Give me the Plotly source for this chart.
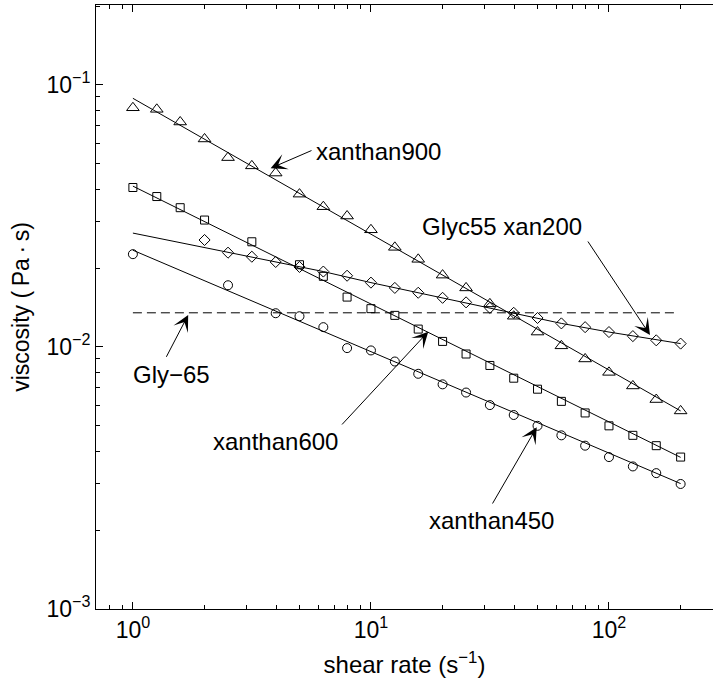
import math
import plotly.graph_objects as go

# shear-rate grid (s^-1)
shear = [1.0, 1.26, 1.58, 2.0, 2.51, 3.16, 3.98, 5.01, 6.31, 7.94,
         10.0, 12.6, 15.8, 20.0, 25.1, 31.6, 39.8, 50.1, 63.1, 79.4,
         100.0, 126.0, 158.0, 200.0]

# xanthan900 (triangles)
x900 = shear
y900 = [0.0818, 0.0807, 0.0722, 0.0622, 0.0528, 0.0491, 0.0461, 0.0383, 0.0343, 0.0316,
        0.0280, 0.0240, 0.0216, 0.0188, 0.0168, 0.0146, 0.0131, 0.0114, 0.0101, 0.0090,
        0.0080, 0.0071, 0.0063, 0.0057]
fit900_x = [1.0, 200.0]
fit900_y = [0.0889, 0.0057]

# xanthan600 (squares)
x600 = [1.0, 1.26, 1.58, 2.0, 3.16, 5.01, 6.31, 7.94,
        10.0, 12.6, 15.8, 20.0, 25.1, 31.6, 39.8, 50.1, 63.1, 79.4,
        100.0, 126.0, 158.0, 200.0]
y600 = [0.0406, 0.0375, 0.0340, 0.0305, 0.0252, 0.0206, 0.0186, 0.0155,
        0.0140, 0.0132, 0.0117, 0.0105, 0.0094, 0.0085, 0.0076, 0.0069, 0.0062, 0.0056,
        0.0050, 0.0046, 0.0042, 0.0038]
fit600_x = [1.0, 200.0]
fit600_y = [0.0411, 0.00379]

# Glyc55 xan200 (diamonds)
x200 = [2.0, 2.51, 3.16, 3.98, 5.01, 6.31, 7.94,
        10.0, 12.6, 15.8, 20.0, 25.1, 31.6, 39.8, 50.1, 63.1, 79.4,
        100.0, 126.0, 158.0, 200.0]
y200 = [0.0256, 0.0229, 0.0221, 0.0211, 0.0202, 0.0194, 0.0187,
        0.0176, 0.0168, 0.0161, 0.0154, 0.0148, 0.0141, 0.0135, 0.0129, 0.0123, 0.0119,
        0.0114, 0.0110, 0.0106, 0.0103]
fit200_x = [1.0, 2.51, 3.98, 6.31, 10.0, 15.8, 25.1, 39.8, 63.1, 100.0, 200.0]
fit200_y = [0.0272, 0.0229, 0.0211, 0.0194, 0.0176, 0.0161, 0.0148, 0.0135, 0.0123, 0.0114, 0.0103]

# xanthan450 (circles)
x450 = [1.0, 2.51, 3.98, 5.01, 6.31, 7.94,
        10.0, 12.6, 15.8, 20.0, 25.1, 31.6, 39.8, 50.1, 63.1, 79.4,
        100.0, 126.0, 158.0, 200.0]
y450 = [0.0226, 0.0172, 0.01345, 0.0131, 0.0119, 0.0099,
        0.0097, 0.0088, 0.0079, 0.0072, 0.0067, 0.0060, 0.0055, 0.0050, 0.0046, 0.0042,
        0.0038, 0.0035, 0.0033, 0.0030]
fit450_x = [1.0, 200.0]
fit450_y = [0.0234, 0.00301]

# Gly-65 (Newtonian reference, dashed)
gly_x = [1.0, 190.0]
gly_y = [0.0135, 0.0135]

x_major = [1, 10, 100]
x_major_text = ["10<sup>0</sup>", "10<sup>1</sup>", "10<sup>2</sup>"]
y_major = [0.001, 0.01, 0.1]
y_major_text = ["10<sup>−3</sup>", "10<sup>−2</sup>", "10<sup>−1</sup>"]
x_minor = [0.7, 0.8, 0.9, 2, 3, 4, 5, 6, 7, 8, 9, 20, 30, 40, 50, 60, 70, 80, 90, 200]
y_minor = [0.002, 0.003, 0.004, 0.005, 0.006, 0.007, 0.008, 0.009,
           0.02, 0.03, 0.04, 0.05, 0.06, 0.07, 0.08, 0.09, 0.2]

FONT = "Liberation Sans, Arial, sans-serif"
line_style = dict(color="black", width=1)

fig = go.Figure()
for fx, fy in [(fit900_x, fit900_y), (fit600_x, fit600_y), (fit200_x, fit200_y), (fit450_x, fit450_y)]:
    fig.add_trace(go.Scatter(x=fx, y=fy, mode="lines", line=line_style, showlegend=False, hoverinfo="skip"))
fig.add_trace(go.Scatter(x=gly_x, y=gly_y, mode="lines",
                         line=dict(color="black", width=1, dash="9px,5px"), showlegend=False))

def mk(sym, size):
    return dict(symbol=sym, size=size, color="black", line=dict(color="black", width=1))

fig.add_trace(go.Scatter(x=x900, y=y900, mode="markers", marker=mk("triangle-up-open", 11), showlegend=False))
fig.add_trace(go.Scatter(x=x600, y=y600, mode="markers", marker=mk("square-open", 8), showlegend=False))
fig.add_trace(go.Scatter(x=x200, y=y200, mode="markers", marker=mk("diamond-open", 8.5), showlegend=False))
fig.add_trace(go.Scatter(x=x450, y=y450, mode="markers", marker=mk("circle-open", 9), showlegend=False))

L = math.log10
arrows = [
    # (head x, head y, tail x, tail y)
    (3.79, 0.0481, 5.71, 0.0565),
    (148.7, 0.01111, 80.8, 0.0256),
    (1.707, 0.01325, 1.372, 0.00905),
    (17.41, 0.01144, 7.46, 0.004994),
    (49.7, 0.004937, 32.15, 0.002494),
]
for hx, hy, tx, ty in arrows:
    fig.add_annotation(x=L(hx), y=L(hy), ax=L(tx), ay=L(ty), xref="x", yref="y",
                       axref="x", ayref="y", text="", showarrow=True,
                       arrowhead=3, arrowsize=2.7, arrowwidth=1, arrowcolor="black", standoff=0)

labels = [
    ("xanthan900", 5.75, 0.0556, "left"),
    ("Glyc55 xan200", 35.7, 0.02877, "center"),
    ("Gly−65", 1.451, 0.00782, "center"),
    ("xanthan600", 3.97, 0.00435, "center"),
    ("xanthan450", 32.0, 0.002173, "center"),
]
for t, x, y, anc in labels:
    fig.add_annotation(x=L(x), y=L(y), xref="x", yref="y", text=t, showarrow=False,
                       xanchor=anc, yanchor="middle", font=dict(family=FONT, size=24, color="black"))

fig.update_layout(
    width=713, height=685,
    margin=dict(l=96, r=0, t=5, b=76),
    paper_bgcolor="white", plot_bgcolor="white",
    font=dict(family=FONT, size=23, color="black"),
    showlegend=False,
)
fig.update_xaxes(
    type="log", range=[-0.155, 2.437],
    tickmode="array", tickvals=x_major, ticktext=x_major_text,
    ticks="inside", ticklen=7, tickwidth=1, tickcolor="black",
    minor=dict(tickmode="array", tickvals=x_minor, ticks="inside", ticklen=4, tickwidth=1, tickcolor="black"),
    showline=True, linecolor="black", linewidth=1, mirror="ticks",
    showgrid=False, zeroline=False,
    tickfont=dict(family=FONT, size=23, color="black"),
    title=dict(text="shear rate (s<sup>−1</sup>)", font=dict(family=FONT, size=24, color="black"), standoff=14),
)
fig.update_yaxes(
    type="log", range=[-3, -0.695],
    tickmode="array", tickvals=y_major, ticktext=y_major_text,
    ticks="inside", ticklen=7, tickwidth=1, tickcolor="black",
    minor=dict(tickmode="array", tickvals=y_minor, ticks="inside", ticklen=4, tickwidth=1, tickcolor="black"),
    showline=True, linecolor="black", linewidth=1, mirror=False,
    showgrid=False, zeroline=False,
    tickfont=dict(family=FONT, size=23, color="black"),
    title=dict(text="viscosity (\u2009Pa\u2009·\u2009s)", font=dict(family=FONT, size=23, color="black"), standoff=10),
)

fig.write_html("out.html")
